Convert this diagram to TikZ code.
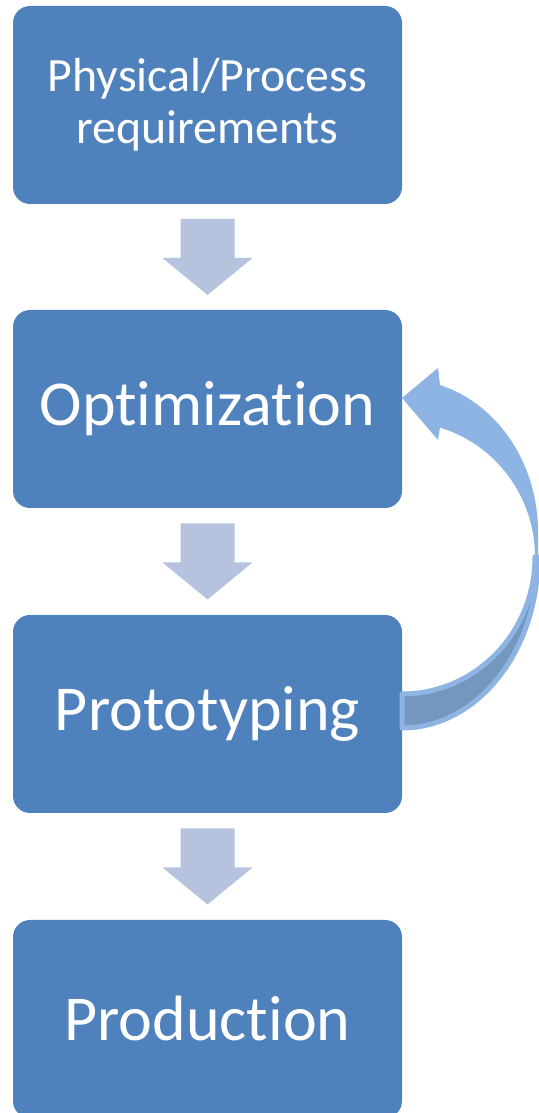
\documentclass[tikz,border=0pt]{standalone}
\usepackage{fontspec}
\setmainfont{Carlito}[Ligatures=NoCommon]
\usetikzlibrary{calc}

\definecolor{boxblue}{HTML}{4F81BD}
\definecolor{stepgrey}{HTML}{B5C3DF}
\definecolor{loopfront}{HTML}{8EB4E3}
\definecolor{loopback}{HTML}{7397BF}

\tikzset{
  stagebox/.style={rectangle, rounded corners=17pt, fill=boxblue, text=white,
    minimum width=389pt, minimum height=198pt, inner sep=0pt, align=center},
  bigtext/.style={font=\fontsize{64}{72}\selectfont},
  smalltext/.style={font=\fontsize{47.8}{52}\selectfont},
}

\begin{document}
\begin{tikzpicture}[x=1pt,y=1pt]
	\useasboundingbox (0,0) rectangle (538,1113);
	% stages
	\node[stagebox,smalltext] (reqs) at (207.5,1008) {Physical/Process\\requirements};
	\node[stagebox,bigtext] (optim) at (207.5,704) {Optimization};
	\node[stagebox,bigtext] (proto) at (207.5,399) {Prototyping};
	\node[stagebox,bigtext] (prod) at (207.5,94) {Production};
	% block arrows between stages
	\foreach \a/\b in {reqs/optim, optim/proto, proto/prod} {
		\coordinate (mid) at ($(\a.south)!0.5!(\b.north)$);
		\fill[stepgrey] ($(mid)+(-27,38)$) -- ($(mid)+(27,38)$) -- ($(mid)+(27,-1)$)
			-- ($(mid)+(45,-1)$) -- ($(mid)+(0,-38)$) -- ($(mid)+(-45,-1)$)
			-- ($(mid)+(-27,-1)$) -- cycle;
	}
	% loop back from prototyping to optimization
	\coordinate (loopc) at (402,556);
	\filldraw[fill=loopback, draw=loopfront, line width=5pt, line join=round]
		($(loopc)+(136,0)$) arc[start angle=0, end angle=-90, x radius=136, y radius=171]
		-- ($(loopc)+(0,-137)$) arc[start angle=-90, end angle=0, x radius=133, y radius=137]
		-- cycle;
	\fill[loopfront] ($(loopc)+(37.5,172.1)$)
		arc[start angle=74, end angle=0, x radius=136, y radius=153]
		-- ($(loopc)+(136,0)$) -- ($(loopc)+(133,0)$)
		arc[start angle=0, end angle=73.4, x radius=133, y radius=135]
		-- ($(loopc)+(36,117)$) -- ($(loopc)+(0,159)$) -- ($(loopc)+(36,189)$)
		-- ($(loopc)+(38,172)$) -- cycle;
\end{tikzpicture}
\end{document}
